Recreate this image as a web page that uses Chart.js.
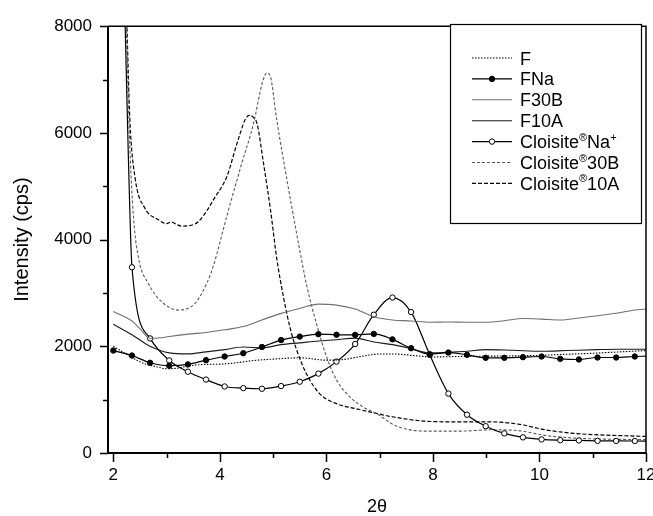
<!DOCTYPE html>
<html>
<head>
<meta charset="utf-8">
<script src="https://cdn.jsdelivr.net/npm/chart.js@4.4.0/dist/chart.umd.min.js"></script>
<style>
  body { margin: 0; background: #fff; }
  #wrap { width: 653px; height: 516px; }
</style>
</head>
<body>
<div id="wrap"><canvas id="xrdChart"></canvas></div>
<script>
// 2-theta positions and intensities (cps)
var fX = [2.0, 2.2, 2.4, 2.6, 2.8, 3.0, 3.2, 3.4, 3.7, 4.0, 4.3, 4.6, 5.0, 5.5, 6.0, 6.3, 6.6, 7.0, 7.3, 7.6, 8.0, 8.5, 9.0, 9.5, 10.0, 10.5, 11.0, 11.5, 12.0];
var fY = [2000, 1880, 1760, 1670, 1620, 1580, 1590, 1630, 1660, 1665, 1690, 1730, 1760, 1785, 1740, 1750, 1800, 1855, 1855, 1830, 1800, 1810, 1815, 1820, 1830, 1850, 1870, 1895, 1920];

var fnaX = [2.0, 2.35, 2.69, 3.05, 3.40, 3.74, 4.09, 4.44, 4.79, 5.15, 5.50, 5.85, 6.19, 6.54, 6.89, 7.24, 7.59, 7.94, 8.29, 8.64, 8.99, 9.34, 9.69, 10.04, 10.39, 10.74, 11.09, 11.44, 11.79, 12.0];
var fnaY = [1920, 1827, 1691, 1636, 1660, 1740, 1809, 1870, 1987, 2117, 2182, 2228, 2216, 2214, 2232, 2130, 1963, 1852, 1883, 1840, 1784, 1784, 1796, 1809, 1765, 1753, 1790, 1790, 1809, 1815];

var f30bX = [2.0, 2.2, 2.35, 2.5, 2.69, 2.9, 3.05, 3.4, 3.74, 4.09, 4.44, 4.79, 5.15, 5.5, 5.85, 6.19, 6.54, 6.89, 7.24, 7.59, 7.94, 8.3, 8.64, 8.99, 9.34, 9.69, 10.04, 10.39, 10.74, 11.09, 11.44, 11.79, 12.0];
var f30bY = [2650, 2560, 2475, 2330, 2150, 2160, 2185, 2228, 2259, 2309, 2370, 2494, 2617, 2710, 2790, 2772, 2698, 2555, 2494, 2475, 2450, 2455, 2450, 2450, 2480, 2520, 2510, 2494, 2530, 2574, 2620, 2680, 2700];

var f10aX = [2.0, 2.35, 2.69, 3.05, 3.4, 3.74, 4.09, 4.44, 4.79, 5.15, 5.5, 5.85, 6.19, 6.54, 6.89, 7.24, 7.59, 7.94, 8.29, 8.64, 8.99, 9.5, 10.04, 10.5, 11.09, 11.5, 12.0];
var f10aY = [2413, 2216, 2000, 1876, 1858, 1895, 1938, 1987, 1969, 2031, 2065, 2100, 2124, 2154, 2080, 2031, 1957, 1876, 1890, 1907, 1938, 1925, 1907, 1920, 1938, 1945, 1945];

var naX = [2.22, 2.28, 2.35, 2.69, 3.05, 3.40, 3.74, 4.09, 4.44, 4.79, 5.15, 5.50, 5.85, 6.19, 6.54, 6.89, 7.24, 7.59, 7.94, 8.29, 8.64, 8.99, 9.34, 9.69, 10.04, 10.39, 10.74, 11.09, 11.44, 11.79, 12.0];
var naY = [8100, 5642, 3481, 2148, 1735, 1524, 1376, 1247, 1216, 1204, 1255, 1336, 1488, 1713, 2043, 2592, 2914, 2642, 1840, 1114, 718, 503, 368, 293, 255, 240, 235, 228, 226, 225, 224];

var c30bX = [2.24, 2.30, 2.38, 2.47, 2.66, 2.91, 3.22, 3.53, 3.75, 3.88, 4.13, 4.41, 4.63, 4.80, 4.88, 4.95, 5.07, 5.26, 5.45, 5.63, 5.82, 6.01, 6.20, 6.45, 6.70, 6.95, 7.3, 7.9, 8.5, 9.1, 9.6, 10.1, 10.5, 11.0, 12.0];
var c30bY = [8200, 6000, 4407, 3667, 3172, 2833, 2679, 2802, 3172, 3512, 4438, 5426, 6166, 6950, 7124, 7050, 6228, 5117, 4068, 3142, 2401, 1784, 1352, 1043, 857, 735, 510, 410, 410, 435, 420, 330, 290, 265, 250];

var c10aX = [2.25, 2.31, 2.41, 2.59, 2.84, 3.0, 3.09, 3.18, 3.28, 3.53, 3.75, 3.88, 4.13, 4.32, 4.48, 4.55, 4.62, 4.70, 4.82, 4.95, 5.07, 5.20, 5.32, 5.45, 5.63, 5.88, 6.20, 6.57, 6.95, 7.26, 7.88, 8.51, 9.13, 9.63, 10.13, 10.69, 12.0];
var c10aY = [8200, 6259, 5148, 4592, 4376, 4300, 4330, 4290, 4253, 4290, 4531, 4750, 5179, 5796, 6259, 6330, 6300, 6166, 5426, 4561, 3635, 2895, 2339, 1907, 1475, 1105, 920, 827, 740, 675, 595, 583, 583, 536, 431, 365, 310];

// legend labels, split so the superscripts can be drawn smaller
var legendParts = [
  [["F", 0]],
  [["FNa", 0]],
  [["F30B", 0]],
  [["F10A", 0]],
  [["Cloisite", 0], ["®", 1], ["Na", 0], ["+", 1]],
  [["Cloisite", 0], ["®", 1], ["30B", 0]],
  [["Cloisite", 0], ["®", 1], ["10A", 0]]
];

function pts(xs, ys) {
  return xs.map(function (x, i) { return { x: x, y: ys[i] }; });
}

// markers only on the measured grid points inside the plot
function markerRadius(c) {
  var p = c.raw;
  return (p.y > 4000 || p.x > 11.9) ? 0 : 2.7;
}

var FONT = "'Liberation Sans', Arial, sans-serif";

var datasets = [
  { label: "F", data: pts(fX, fY), borderColor: "#000", borderWidth: 1.1, borderDash: [1.5, 1.5], pointRadius: 0 },
  { label: "FNa", data: pts(fnaX, fnaY), borderColor: "#000", borderWidth: 1.2, pointRadius: markerRadius,
    pointBackgroundColor: "#000", pointBorderColor: "#000", pointBorderWidth: 1, marker: true },
  { label: "F30B", data: pts(f30bX, f30bY), borderColor: "#707070", borderWidth: 1.1, pointRadius: 0 },
  { label: "F10A", data: pts(f10aX, f10aY), borderColor: "#1a1a1a", borderWidth: 1.1, pointRadius: 0 },
  { label: "Cloisite Na+", data: pts(naX, naY), borderColor: "#000", borderWidth: 1.2, pointRadius: markerRadius,
    pointBackgroundColor: "#fff", pointBorderColor: "#000", pointBorderWidth: 1, marker: true },
  { label: "Cloisite 30B", data: pts(c30bX, c30bY), borderColor: "#5a5a5a", borderWidth: 1.1, borderDash: [3, 2], pointRadius: 0 },
  { label: "Cloisite 10A", data: pts(c10aX, c10aY), borderColor: "#000", borderWidth: 1.2, borderDash: [4, 2], pointRadius: 0 }
];
datasets.forEach(function (d) {
  d.fill = false;
  d.cubicInterpolationMode = "monotone";
});

// frame, tick marks and the boxed legend inside the plot
var decorPlugin = {
  id: "decor",
  afterDraw: function (chart) {
    var ctx = chart.ctx;
    var a = chart.chartArea;
    var xs = chart.scales.x, ys = chart.scales.y;
    ctx.save();
    ctx.strokeStyle = "#000";
    ctx.setLineDash([]);

    // ticks
    ctx.lineWidth = 1.5;
    ctx.beginPath();
    for (var v = 0; v <= 8000; v += 1000) {
      var py = Math.round(ys.getPixelForValue(v)) + 0.5;
      var len = v % 2000 === 0 ? 8 : 5;
      ctx.moveTo(a.left - len, py);
      ctx.lineTo(a.left, py);
    }
    for (var t = 2; t <= 12; t++) {
      var px = Math.round(xs.getPixelForValue(t)) + 0.5;
      var l2 = t % 2 === 0 ? 9 : 5;
      ctx.moveTo(px, a.bottom);
      ctx.lineTo(px, a.bottom + l2);
    }
    ctx.stroke();

    // axes box
    ctx.lineWidth = 2;
    ctx.beginPath();
    ctx.moveTo(a.left, a.top);
    ctx.lineTo(a.left, a.bottom);
    ctx.lineTo(a.right, a.bottom);
    ctx.stroke();
    ctx.lineWidth = 1.5;
    ctx.beginPath();
    ctx.moveTo(a.left, a.top);
    ctx.lineTo(a.right, a.top);
    ctx.lineTo(a.right, a.bottom);
    ctx.stroke();

    // legend
    var bx = 450.5, by = 24.5, bw = 191, bh = 199;
    ctx.fillStyle = "#fff";
    ctx.fillRect(bx, by, bw, bh);
    ctx.lineWidth = 1.2;
    ctx.strokeRect(bx, by, bw, bh);

    chart.data.datasets.forEach(function (ds, i) {
      var y = 58 + i * 20.9;
      ctx.save();
      ctx.strokeStyle = ds.borderColor;
      ctx.lineWidth = ds.borderWidth;
      ctx.setLineDash(ds.borderDash || []);
      ctx.beginPath();
      ctx.moveTo(472, y);
      ctx.lineTo(512, y);
      ctx.stroke();
      ctx.restore();
      if (ds.marker) {
        ctx.beginPath();
        ctx.arc(492, y, 2.7, 0, Math.PI * 2);
        ctx.fillStyle = ds.pointBackgroundColor;
        ctx.fill();
        ctx.lineWidth = 1;
        ctx.strokeStyle = "#000";
        ctx.stroke();
      }
      var tx = 520;
      ctx.fillStyle = "#000";
      ctx.textBaseline = "alphabetic";
      legendParts[i].forEach(function (part) {
        if (part[1]) {
          ctx.font = "11px " + FONT;
          ctx.fillText(part[0], tx, y - 1);
        } else {
          ctx.font = "18px " + FONT;
          ctx.fillText(part[0], tx, y + 6.5);
        }
        tx += ctx.measureText(part[0]).width;
      });
    });
    ctx.restore();
  }
};

function plainTick(v) { return String(v); }

var ctx = document.getElementById("xrdChart").getContext("2d");
var myChart = new Chart(ctx, {
  type: "line",
  data: { datasets: datasets },
  options: {
    responsive: true,
    maintainAspectRatio: false,
    animation: false,
    layout: { padding: { top: 21, right: 7, left: 0, bottom: 0 } },
    plugins: { legend: { display: false }, tooltip: { enabled: false } },
    scales: {
      x: {
        type: "linear",
        min: 1.9,
        max: 12,
        grid: { display: false, drawTicks: false },
        border: { display: false },
        ticks: { stepSize: 2, includeBounds: false, padding: 12, color: "#000", maxRotation: 0,
                 callback: plainTick, font: { family: FONT, size: 17 } },
        title: { display: true, text: "2θ", color: "#000", font: { family: FONT, size: 18, lineHeight: 1 },
                 padding: { top: 0, bottom: 0 } },
        afterFit: function (s) { s.height = 63; s.paddingRight = 0; s.paddingLeft = 0; }
      },
      y: {
        min: 0,
        max: 8000,
        grid: { display: false, drawTicks: false },
        border: { display: false },
        ticks: { stepSize: 2000, padding: 16, color: "#000", callback: plainTick,
                 font: { family: FONT, size: 17 } },
        title: { display: true, text: "Intensity (cps)", color: "#000", font: { family: FONT, size: 20 },
                 padding: { top: 10, bottom: 0 } },
        afterFit: function (s) { s.width = 108; }
      }
    }
  },
  plugins: [decorPlugin]
});
</script>
</body>
</html>
